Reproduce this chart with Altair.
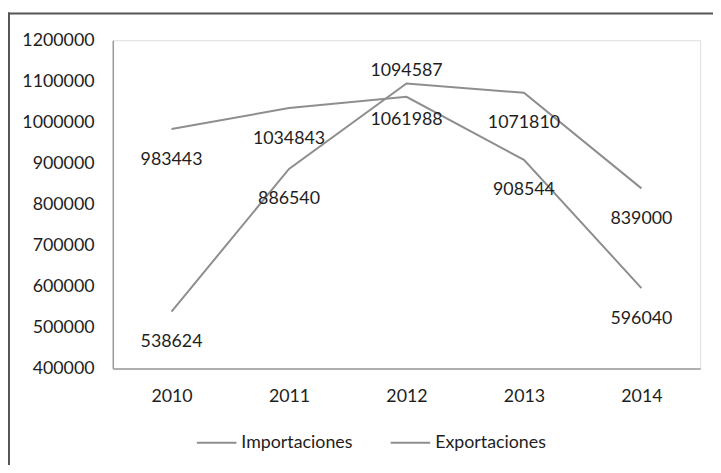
import altair as alt
import pandas as pd

years = ["2010", "2011", "2012", "2013", "2014"]
importaciones = [983443, 1034843, 1061988, 908544, 596040]
exportaciones = [538624, 886540, 1094587, 1071810, 839000]
series_names = ["Importaciones", "Exportaciones"]

rows = []
for name, vals in zip(series_names, [importaciones, exportaciones]):
    for y, v in zip(years, vals):
        rows.append({"year": y, "value": v, "serie": name})
df = pd.DataFrame(rows)

GRAY = "#8e8e8e"
FONT = "Lato"
FS = 18
TXT = "#1e1e1e"

base = alt.Chart(df)

x = alt.X("year:N", title=None, sort=years,
          scale=alt.Scale(paddingInner=0, paddingOuter=0),
          axis=alt.Axis(labelAngle=0, ticks=False, domainColor="#9a9a9a",
                        domainWidth=1.5, labelPadding=19, labelFontSize=FS,
                        labelFont=FONT, labelColor=TXT))
y = alt.Y("value:Q", title=None,
          scale=alt.Scale(domain=[400000, 1200000], nice=False, zero=False),
          axis=alt.Axis(values=list(range(400000, 1200001, 100000)), format="d",
                        grid=False, ticks=False, domainColor="#9a9a9a",
                        domainWidth=1.5, labelPadding=19, labelFontSize=FS,
                        labelFont=FONT, labelColor=TXT))

lines = base.mark_line(strokeWidth=2).encode(
    x=x, y=y,
    color=alt.Color("serie:N", sort=series_names,
                    scale=alt.Scale(domain=series_names, range=[GRAY, GRAY]),
                    legend=alt.Legend(title=None, orient="none", direction="horizontal",
                                      legendX=84, legendY=386,
                                      symbolType="stroke", symbolSize=1600,
                                      symbolStrokeWidth=2, labelFontSize=FS,
                                      labelFont=FONT, labelColor=TXT,
                                      labelOffset=4, columnPadding=34)),
)

cond_default = ~(((alt.datum.serie == "Exportaciones") & (alt.datum.year == "2012")) |
                 ((alt.datum.serie == "Importaciones") & (alt.datum.year == "2012")))

txt_kw = dict(fontSize=FS, font=FONT, color=TXT, align="center", baseline="middle")
labels = base.transform_filter(cond_default).mark_text(dy=31, **txt_kw).encode(
    x=alt.X("year:N", sort=years), y="value:Q", text=alt.Text("value:Q", format="d"))
lab_up = base.transform_filter(
    (alt.datum.serie == "Exportaciones") & (alt.datum.year == "2012")
).mark_text(dy=-13, **txt_kw).encode(
    x=alt.X("year:N", sort=years), y="value:Q", text=alt.Text("value:Q", format="d"))
lab_mid = base.transform_filter(
    (alt.datum.serie == "Importaciones") & (alt.datum.year == "2012")
).mark_text(dy=23, **txt_kw).encode(
    x=alt.X("year:N", sort=years), y="value:Q", text=alt.Text("value:Q", format="d"))

one = pd.DataFrame({"a": [0]})
frame_left = alt.Chart(one).mark_rule(stroke="#555555", strokeWidth=2, clip=False).encode(
    x=alt.value(-105), y=alt.value(-28), y2=alt.value(480))
frame_top = alt.Chart(one).mark_rule(stroke="#555555", strokeWidth=2, clip=False).encode(
    x=alt.value(-106), x2=alt.value(660), y=alt.value(-27))

chart = alt.layer(frame_left, frame_top, lines, labels, lab_up, lab_mid).properties(
    width=594, height=332,
    autosize=alt.AutoSizeParams(type="none"),
    padding={"left": 106, "top": 30, "right": 13, "bottom": 95},
).configure_view(stroke=None).configure(background="white")

chart.save("out.html", embed_options={"renderer": "svg", "actions": False})
